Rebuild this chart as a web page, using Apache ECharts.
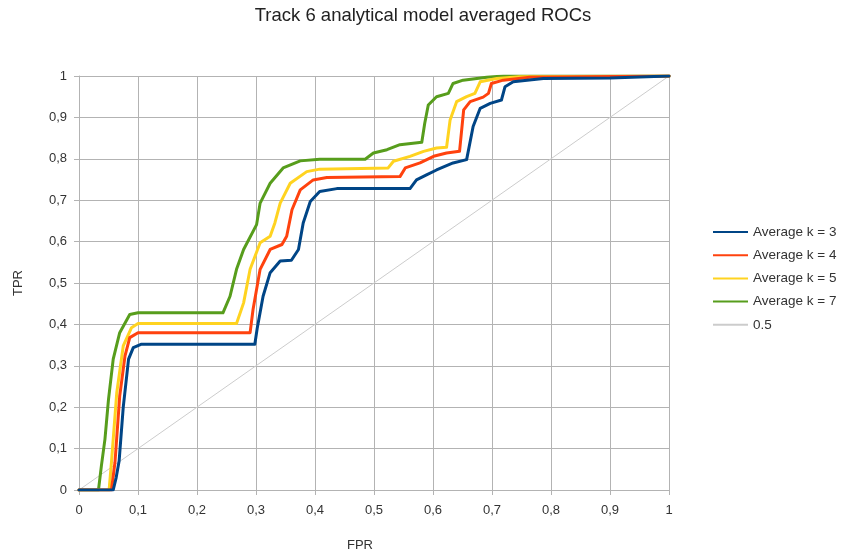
<!DOCTYPE html>
<html>
<head>
<meta charset="utf-8">
<script src="https://cdn.jsdelivr.net/npm/echarts@6/dist/echarts.min.js"></script>
<style>html,body{margin:0;padding:0;background:#fff}#c{width:846px;height:557px}</style>
</head>
<body>
<div id="c"></div>
<script>
var seriesNames = ['Average k = 3', 'Average k = 4', 'Average k = 5', 'Average k = 7', '0.5'];
var tickValues = [0, 0.1, 0.2, 0.3, 0.4, 0.5, 0.6, 0.7, 0.8, 0.9, 1];

var k3Fpr = [0, 0.058, 0.063, 0.068, 0.075, 0.084, 0.092, 0.105, 0.298, 0.302, 0.312, 0.324, 0.341, 0.360, 0.372, 0.380, 0.392, 0.408, 0.437, 0.561, 0.572, 0.589, 0.606, 0.634, 0.657, 0.668, 0.680, 0.697, 0.716, 0.722, 0.736, 0.787, 0.9, 1];
var k3Tpr = [0, 0, 0.03, 0.07, 0.20, 0.316, 0.344, 0.352, 0.352, 0.39, 0.468, 0.525, 0.553, 0.555, 0.581, 0.645, 0.697, 0.721, 0.728, 0.728, 0.749, 0.761, 0.773, 0.790, 0.798, 0.878, 0.922, 0.934, 0.942, 0.974, 0.986, 0.994, 0.995, 1];

var k4Fpr = [0, 0.055, 0.061, 0.069, 0.078, 0.086, 0.1, 0.290, 0.295, 0.307, 0.324, 0.344, 0.352, 0.361, 0.375, 0.397, 0.420, 0.544, 0.553, 0.578, 0.601, 0.623, 0.645, 0.652, 0.663, 0.685, 0.694, 0.699, 0.719, 0.764, 1];
var k4Tpr = [0, 0, 0.067, 0.227, 0.324, 0.368, 0.38, 0.38, 0.436, 0.533, 0.581, 0.593, 0.613, 0.677, 0.725, 0.749, 0.755, 0.757, 0.778, 0.790, 0.806, 0.814, 0.818, 0.918, 0.938, 0.949, 0.958, 0.982, 0.990, 0.997, 1];

var k5Fpr = [0, 0.051, 0.055, 0.064, 0.075, 0.089, 0.1, 0.267, 0.279, 0.290, 0.307, 0.324, 0.332, 0.341, 0.358, 0.386, 0.408, 0.524, 0.533, 0.561, 0.584, 0.606, 0.623, 0.629, 0.640, 0.657, 0.671, 0.680, 0.708, 0.747, 1];
var k5Tpr = [0, 0, 0.067, 0.235, 0.348, 0.392, 0.402, 0.402, 0.452, 0.533, 0.597, 0.613, 0.645, 0.693, 0.741, 0.769, 0.775, 0.778, 0.794, 0.806, 0.818, 0.826, 0.828, 0.894, 0.938, 0.950, 0.958, 0.986, 0.994, 0.998, 1];

var k7Fpr = [0, 0.033, 0.038, 0.044, 0.050, 0.058, 0.069, 0.086, 0.1, 0.244, 0.256, 0.267, 0.279, 0.301, 0.307, 0.324, 0.346, 0.375, 0.408, 0.485, 0.499, 0.522, 0.544, 0.581, 0.584, 0.586, 0.592, 0.606, 0.626, 0.634, 0.651, 0.691, 0.72, 1];
var k7Tpr = [0, 0, 0.059, 0.123, 0.219, 0.316, 0.380, 0.424, 0.428, 0.428, 0.468, 0.533, 0.581, 0.641, 0.693, 0.741, 0.778, 0.795, 0.799, 0.799, 0.814, 0.822, 0.834, 0.840, 0.842, 0.886, 0.930, 0.950, 0.958, 0.982, 0.990, 0.997, 1, 1];

var diagFpr = [0, 1];
var diagTpr = [0, 1];

function pairs(xs, ys) { return xs.map(function (x, i) { return [x, ys[i]]; }); }

var colors = ['#004586', '#ff420e', '#ffd320', '#579d1c', '#cccccc'];
var FONT = 'Liberation Sans, Arial, sans-serif';

var lists = [[k3Fpr, k3Tpr], [k4Fpr, k4Tpr], [k5Fpr, k5Tpr], [k7Fpr, k7Tpr], [diagFpr, diagTpr]];
var zs = [6, 5, 4, 3, 2];
var series = lists.map(function (l, i) {
  return {
    name: seriesNames[i],
    type: 'line',
    data: pairs(l[0], l[1]),
    symbol: 'none',
    z: zs[i],
    smooth: false,
    color: colors[i],
    lineStyle: { color: colors[i], width: i === 4 ? 1 : 3, cap: 'round', join: 'round' }
  };
});

function axisCommon() {
  return {
    type: 'value',
    min: 0, max: 1, interval: 0.1,
    axisLine: { show: true, lineStyle: { color: '#b3b3b3', width: 1 } },
    axisTick: { show: true, inside: false, length: 5, lineStyle: { color: '#b3b3b3' } },
    splitLine: { show: true, lineStyle: { color: '#b3b3b3', width: 1 } },
    axisLabel: {
      color: '#333', fontFamily: FONT, fontSize: 13,
      formatter: function (v) {
        var idx = tickValues.indexOf(Math.round(v * 10) / 10);
        var t = idx >= 0 ? tickValues[idx] : v;
        return String(t).replace('.', ',');
      }
    },
    nameLocation: 'middle',
    nameTextStyle: { color: '#333', fontFamily: FONT, fontSize: 13 }
  };
}

var xAxis = axisCommon();
xAxis.name = 'FPR';
xAxis.nameGap = 49;
xAxis.nameTextStyle.padding = [0, 28, 0, 0];
xAxis.axisLabel.margin = 14;

var yAxis = axisCommon();
yAxis.name = 'TPR';
yAxis.nameGap = 54;
yAxis.axisLabel.margin = 12;

var chart = echarts.init(document.getElementById('c'), null, { renderer: 'canvas' });
chart.setOption({
  backgroundColor: '#ffffff',
  animation: false,
  title: {
    text: 'Track 6 analytical model averaged ROCs',
    left: 'center', top: 1,
    textStyle: { color: '#222', fontFamily: FONT, fontSize: 18.5, fontWeight: 'normal' }
  },
  legend: {
    orient: 'vertical',
    left: 708, top: 220,
    icon: 'rect',
    itemWidth: 35, itemHeight: 2, itemGap: 9.2,
    data: seriesNames,
    textStyle: { color: '#333', fontFamily: FONT, fontSize: 13.5 }
  },
  grid: { left: 79, right: 177, top: 76, bottom: 66, containLabel: false },
  xAxis: xAxis,
  yAxis: yAxis,
  series: series
});
</script>
</body>
</html>
